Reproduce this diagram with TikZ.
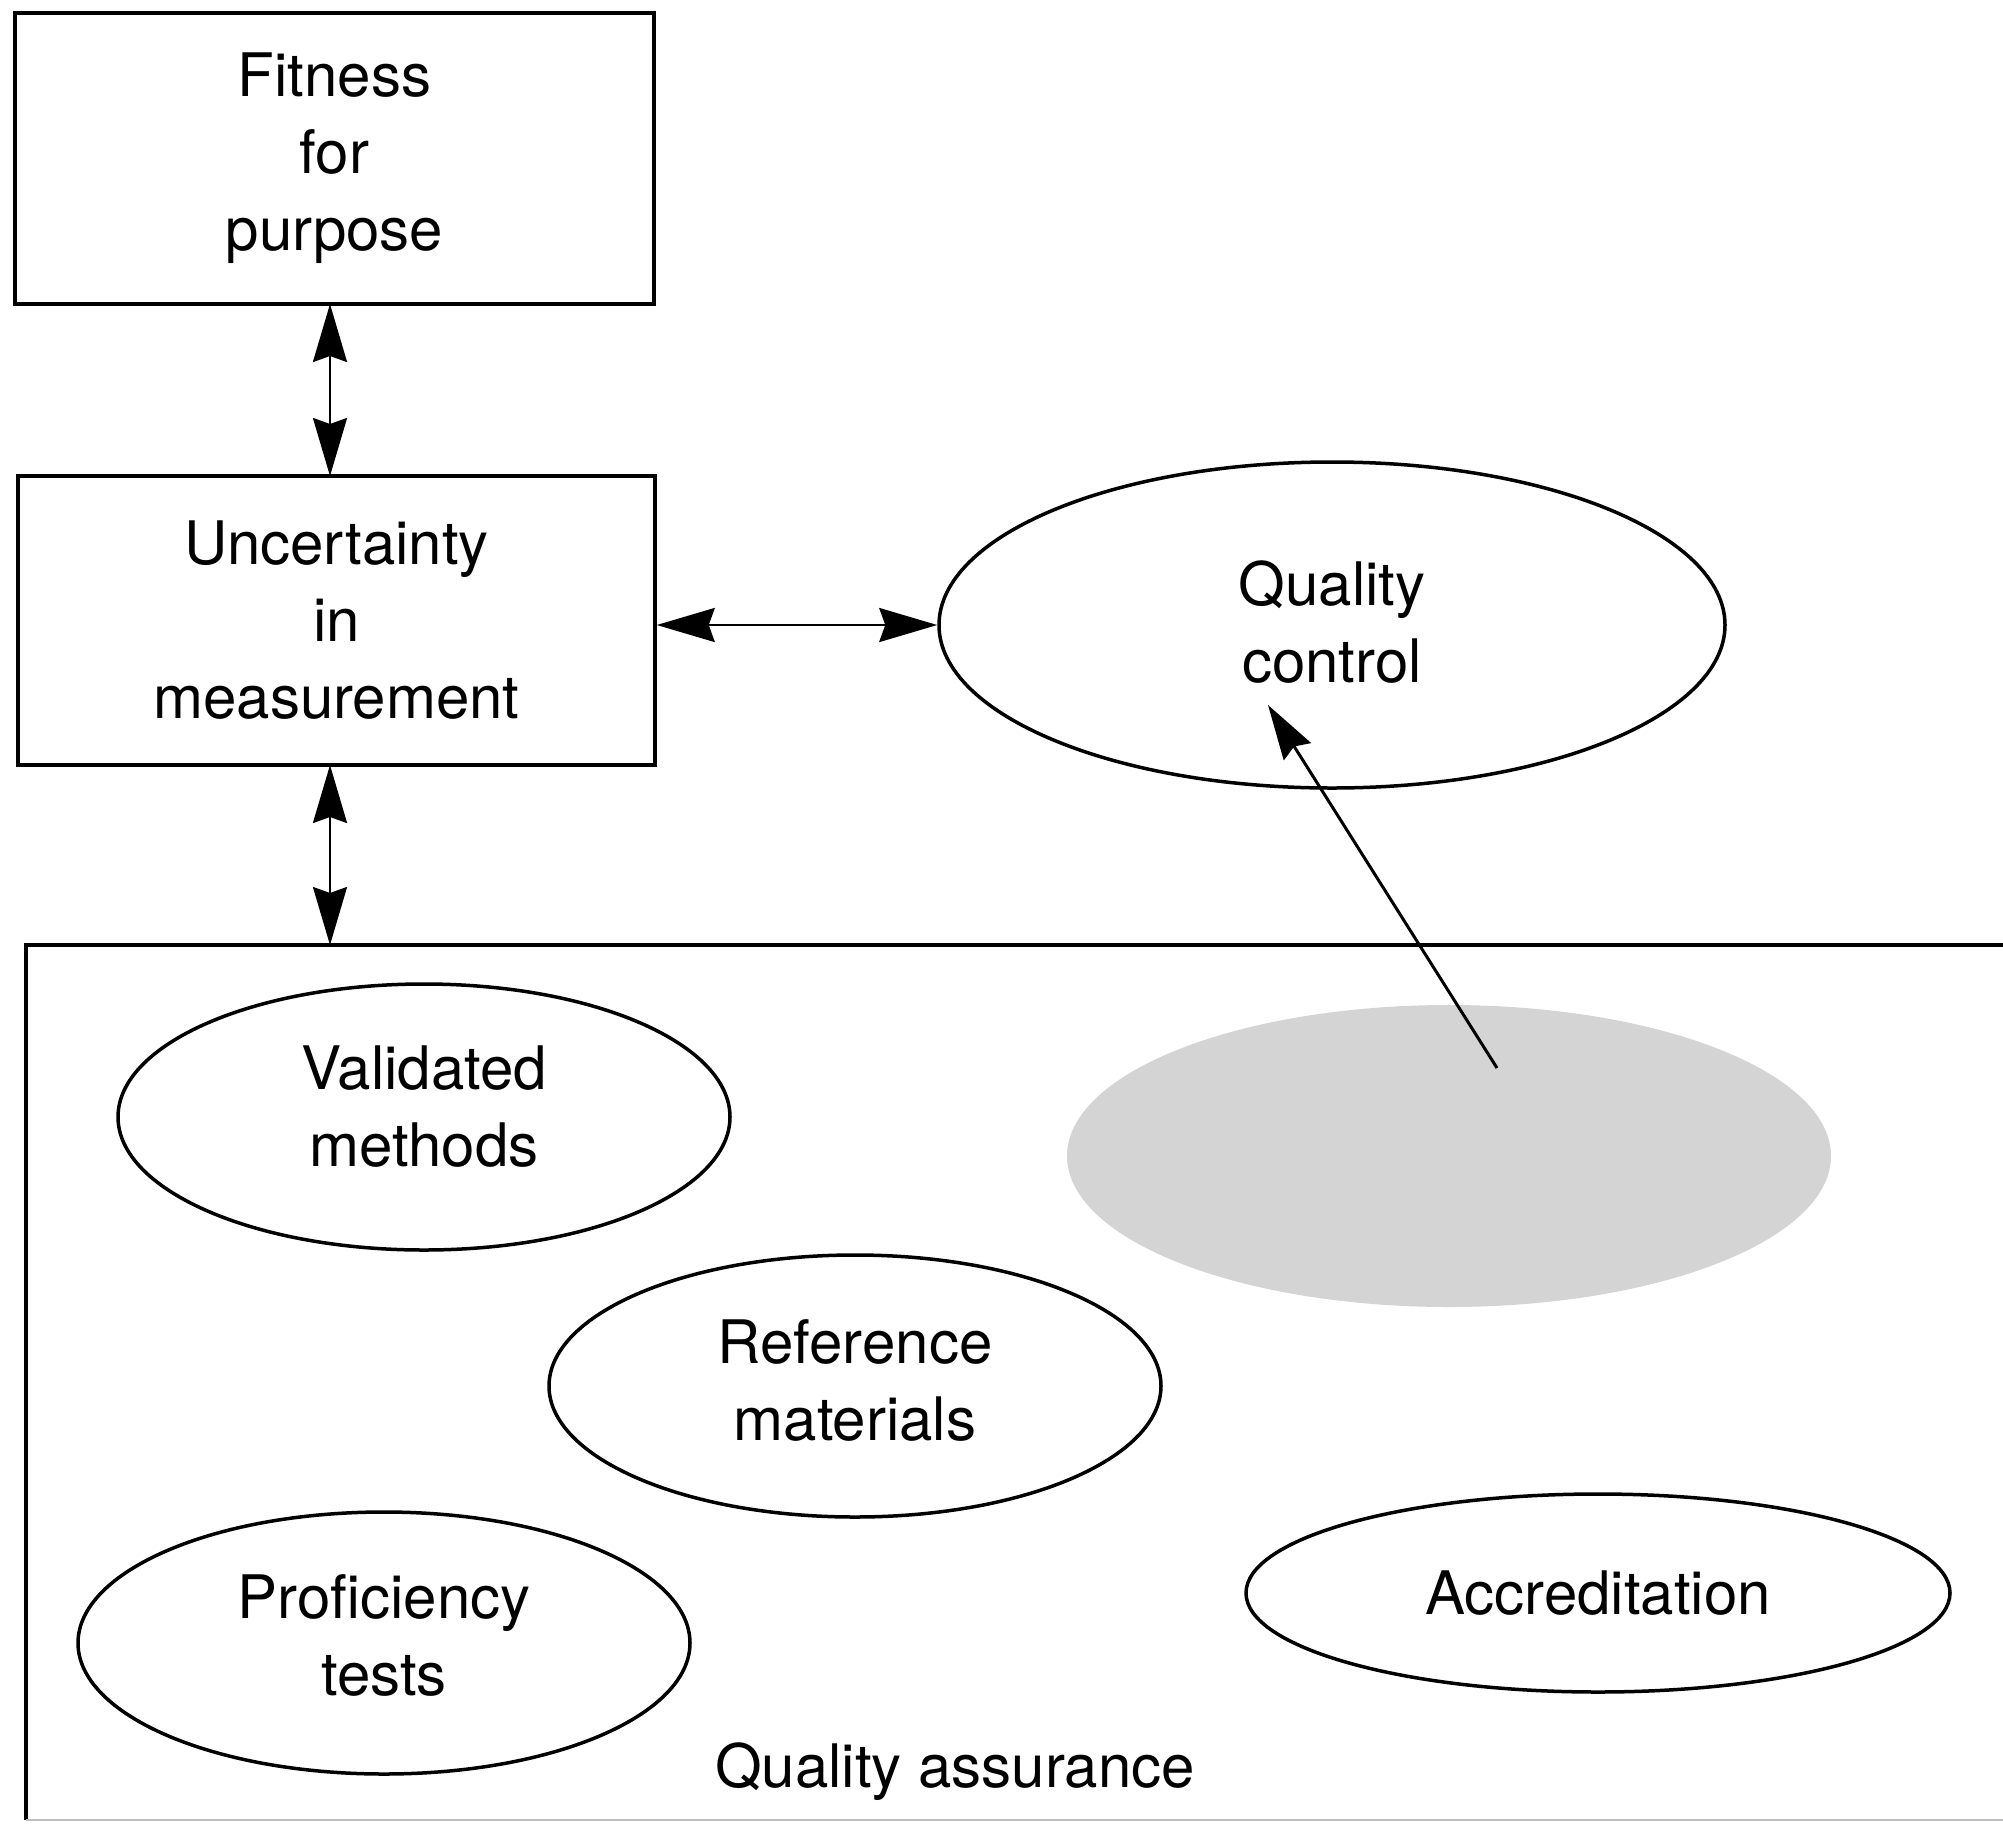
\documentclass[tikz,border=0pt]{standalone}
\usepackage{fontspec}
\setmainfont{TeX Gyre Heros}
\usetikzlibrary{shapes.geometric,arrows.meta}
\definecolor{shade}{RGB}{212,212,212}
\definecolor{faint}{RGB}{190,190,190}
\newcommand{\liftby}[1]{\rule[-#1]{0pt}{0pt}}
\begin{document}
\begin{tikzpicture}[x=1pt,y=-1pt,
  every node/.style={font=\fontsize{60}{77}\selectfont, align=center},
  box/.style={draw, line width=3.5pt, inner sep=0pt},
  oval/.style={draw, ellipse, line width=3.5pt, inner sep=0pt},
  link/.style={line width=2.5pt, {Stealth[length=58pt,width=34pt,inset=6pt]}-{Stealth[length=58pt,width=34pt,inset=6pt]}},
  onelink/.style={line width=3pt, -{Stealth[length=55pt,width=32pt,inset=6pt]}}]
\useasboundingbox (0,0) rectangle (2003,1829);

% quality assurance frame
\coordinate (qatl) at (26,945);
\coordinate (qabl) at (26,1820);
\draw[line width=3.5pt] (2010,945) -- (qatl) -- (qabl);
\draw[line width=2pt, faint] (qabl) -- (2010,1820);
\node[anchor=center] (qa) at (955,1772) {Quality assurance};

% boxes
\node[box, minimum width=639pt, minimum height=291pt] (fit) at (334.5,158.5) {Fitness\\for\\purpose};
\node[box, minimum width=637pt, minimum height=289pt] (unc) at (336.5,620.5) {Uncertainty\\in\\measurement};

% ellipses
\node[oval, minimum width=786pt, minimum height=326pt] (qc) at (1332,625) {Quality\\control\liftby{6pt}};
\node[ellipse, fill=shade, inner sep=0pt, minimum width=764pt, minimum height=302pt] (grey) at (1449,1156) {};
\node[oval, minimum width=612pt, minimum height=266pt] (val) at (424,1117) {Validated\\methods\liftby{22pt}};
\node[oval, minimum width=612pt, minimum height=262pt] (ref) at (855,1386) {Reference\\materials\liftby{12pt}};
\node[oval, minimum width=612pt, minimum height=262pt] (prof) at (384,1643) {Proficiency\\tests\liftby{16pt}};
\node[oval, minimum width=704pt, minimum height=198pt] (acc) at (1598,1593) {Accreditation};

% connectors
\coordinate (fitb) at (330,304);
\coordinate (unct) at (330,476);
\coordinate (uncb) at (330,765);
\coordinate (qatop) at (330,945);
\draw[link] (fitb) -- (unct);
\draw[link] (uncb) -- (qatop);
\draw[link] (qc.west -| unc.east) -- (qc.west);
\coordinate (gstart) at (1497,1068);
\coordinate (qcend) at (1268,705);
\draw[onelink] (gstart) -- (qcend);
\end{tikzpicture}
\end{document}
